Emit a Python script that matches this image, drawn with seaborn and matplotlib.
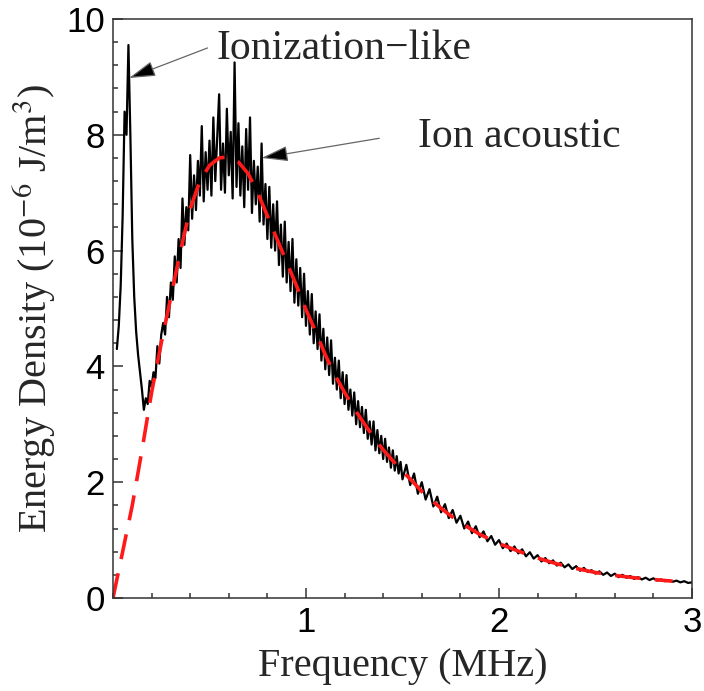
import numpy as np
import pandas as pd
import seaborn as sns
import matplotlib.pyplot as plt
from matplotlib.ticker import MultipleLocator

# fitted (dashed red) curve
fit_freq = [0.00, 0.05, 0.10, 0.15, 0.20, 0.25, 0.30, 0.35, 0.40, 0.45, 0.50, 0.55,
            0.60, 0.65, 0.70, 0.75, 0.80, 0.85, 0.90, 0.95, 1.00, 1.05, 1.10, 1.15,
            1.20, 1.25, 1.30, 1.35, 1.40, 1.45, 1.50, 1.55, 1.60, 1.65, 1.70, 1.75,
            1.80, 1.85, 1.90, 1.95, 2.00, 2.10, 2.20, 2.30, 2.40, 2.50, 2.60, 2.70,
            2.80, 2.90]
fit_energy = [0.00, 0.80, 1.60, 2.55, 3.55, 4.40, 5.20, 6.00, 6.72, 7.20, 7.47, 7.60,
              7.62, 7.53, 7.33, 7.00, 6.60, 6.20, 5.80, 5.40, 4.98, 4.60, 4.20, 3.85,
              3.55, 3.27, 3.02, 2.78, 2.56, 2.37, 2.19, 2.02, 1.84, 1.69, 1.55, 1.42,
              1.30, 1.20, 1.10, 1.02, 0.94, 0.81, 0.69, 0.59, 0.51, 0.44, 0.39, 0.35,
              0.32, 0.29]

# measured spectrum (black trace), sampled every 0.01 MHz up to 1.5, then every 0.02 MHz
meas_freq = np.concatenate([np.arange(2, 151) / 100, np.arange(76, 151) / 50])
meas_energy = [
    4.30, 4.70, 5.40, 6.60, 8.40, 8.00, 9.55, 8.00, 6.20, 5.20,   # 0.02-0.11
    4.60, 4.20, 3.90, 3.60, 3.25, 3.45, 3.35, 3.75, 3.65,         # 0.12-0.20
    3.90, 3.80, 4.35, 4.05, 4.55, 4.75, 4.55, 5.20, 4.85, 5.45,   # 0.21-0.30
    5.15, 5.90, 5.45, 6.20, 5.70, 6.90, 6.10, 6.75, 6.35, 7.65,   # 0.31-0.40
    6.55, 7.30, 6.70, 7.55, 6.95, 8.15, 6.85, 7.70, 7.05, 7.90,   # 0.41-0.50
    6.95, 8.30, 7.20, 7.95, 8.70, 7.05, 7.85, 7.00, 8.45, 7.30,   # 0.51-0.60
    8.05, 6.90, 9.25, 7.10, 8.20, 6.95, 7.80, 6.75, 8.10, 7.05,   # 0.61-0.70
    8.30, 6.65, 7.55, 6.80, 7.45, 6.50, 7.85, 6.45, 7.15, 6.20,   # 0.71-0.80
    7.10, 6.05, 6.80, 6.00, 6.85, 5.75, 6.45, 5.55, 6.50, 5.45,   # 0.81-0.90
    6.15, 5.30, 6.20, 5.10, 5.85, 5.05, 5.70, 4.85, 5.60, 4.70,   # 0.91-1.00
    5.30, 4.55, 5.25, 4.40, 4.95, 4.30, 4.90, 4.10, 4.65, 3.95,   # 1.01-1.10
    4.50, 3.85, 4.45, 3.70, 4.15, 3.60, 4.10, 3.45, 3.90, 3.35,   # 1.11-1.20
    3.85, 3.25, 3.60, 3.15, 3.55, 3.00, 3.40, 2.95, 3.30, 2.85,   # 1.21-1.30
    3.25, 2.75, 3.05, 2.65, 3.05, 2.55, 2.90, 2.50, 2.80, 2.40,   # 1.31-1.40
    2.75, 2.35, 2.60, 2.25, 2.55, 2.20, 2.45, 2.15, 2.35, 2.05,   # 1.41-1.50
    2.30, 1.95, 2.15, 1.80, 2.00, 1.70, 1.88, 1.58, 1.75, 1.48,   # 1.52-1.70
    1.62, 1.38, 1.52, 1.30, 1.42, 1.20, 1.32, 1.12, 1.24, 1.05,   # 1.72-1.90
    1.15, 0.98, 1.07, 0.92, 1.00, 0.86, 0.94, 0.81, 0.89, 0.77,   # 1.92-2.10
    0.84, 0.72, 0.79, 0.68, 0.74, 0.63, 0.69, 0.60, 0.65, 0.56,   # 2.12-2.30
    0.61, 0.53, 0.58, 0.50, 0.55, 0.47, 0.52, 0.45, 0.48, 0.42,   # 2.32-2.50
    0.46, 0.40, 0.44, 0.38, 0.42, 0.36, 0.40, 0.35, 0.38, 0.33,   # 2.52-2.70
    0.36, 0.32, 0.35, 0.31, 0.34, 0.30, 0.32, 0.29, 0.31, 0.28,   # 2.72-2.90
    0.30, 0.27, 0.29, 0.26, 0.27,                                 # 2.92-3.00
]

meas = pd.DataFrame({"freq": meas_freq, "energy": meas_energy})
fit = pd.DataFrame({"freq": fit_freq, "energy": fit_energy})

sns.set_style("ticks")
plt.rcParams["font.family"] = ["Liberation Serif", "DejaVu Serif"]
plt.rcParams["mathtext.fontset"] = "stix"

fig = plt.figure(figsize=(7.04, 6.91), dpi=100)
ax = fig.add_axes([0.1605, 0.1346, 0.8224, 0.8379])

sns.lineplot(data=meas, x="freq", y="energy", ax=ax, color="black", lw=1.6,
             estimator=None, sort=False)
sns.lineplot(data=fit, x="freq", y="energy", ax=ax, color="#ff1a1a", lw=2.6,
             estimator=None, sort=False, dashes=False, linestyle=(0, (7, 4)))

ax.set_xlim(0, 3)
ax.set_ylim(0, 10)
ax.set_xticks([1, 2, 3])
ax.set_yticks([0, 2, 4, 6, 8, 10])
ax.xaxis.set_minor_locator(MultipleLocator(0.2))
ax.yaxis.set_minor_locator(MultipleLocator(0.4))
ax.tick_params(which="both", direction="in", top=False, right=False,
               color="#333333", width=1.1)
ax.tick_params(which="major", length=7, labelsize=25, pad=6, labelcolor="black")
ax.tick_params(which="minor", length=3.5)
for lab in ax.get_xticklabels() + ax.get_yticklabels():
    lab.set_family("Liberation Sans")
for sp in ax.spines.values():
    sp.set_color("#333333")
    sp.set_linewidth(1.1)

ax.set_xlabel("Frequency (MHz)", fontsize=29, labelpad=6)
ax.set_ylabel("Energy Density (10$^{-6}$ J/m$^{3}$)", fontsize=29, labelpad=6)

arrow = dict(arrowstyle="-|>,head_length=0.55,head_width=0.16", fc="black",
             ec="#666666", lw=0.9, shrinkA=0, shrinkB=0)
ax.annotate("", xy=(0.083, 8.98), xytext=(0.49, 9.5), arrowprops=arrow,
            fontsize=30)
ax.annotate("", xy=(0.77, 7.6), xytext=(1.38, 7.94), arrowprops=arrow,
            fontsize=30)
ax.text(0.535, 9.31, "Ionization\u2212like", fontsize=30, va="baseline")
ax.text(1.578, 7.79, "Ion acoustic", fontsize=30, va="baseline")

fig.savefig("out.png", dpi=100)
